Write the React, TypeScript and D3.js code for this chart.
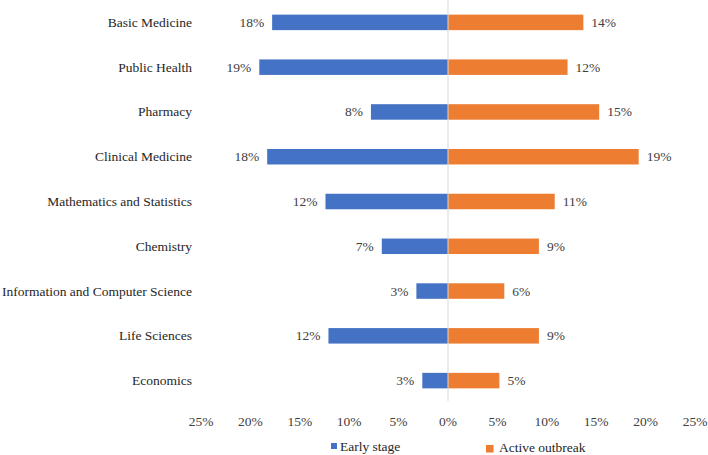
import React from "react";
import * as d3 from "d3";

const categories = [
  "Basic Medicine",
  "Public Health",
  "Pharmacy",
  "Clinical Medicine",
  "Mathematics and Statistics",
  "Chemistry",
  "Information and Computer Science",
  "Life Sciences",
  "Economics",
];
const earlyStage = [17.8, 19.1, 7.8, 18.3, 12.4, 6.7, 3.2, 12.1, 2.6];
const activeOutbreak = [13.7, 12.1, 15.3, 19.3, 10.8, 9.2, 5.7, 9.2, 5.2];
const earlyLabels = ["18%", "19%", "8%", "18%", "12%", "7%", "3%", "12%", "3%"];
const activeLabels = ["14%", "12%", "15%", "19%", "11%", "9%", "6%", "9%", "5%"];
const tickValues = [-25, -20, -15, -10, -5, 0, 5, 10, 15, 20, 25];
const seriesNames = ["Early stage", "Active outbreak"];

const W = 708;
const H = 455;
const BLUE = "#4472C4";
const ORANGE = "#ED7D31";
const FONT = "'Liberation Serif', 'DejaVu Serif Condensed', 'DejaVu Serif', serif";

export default function App() {
  const x = d3.scaleLinear().domain([-25, 25]).range([201, 695]);
  const y = d3
    .scaleBand<string>()
    .domain(categories)
    .range([0, 403])
    .paddingInner(0.654)
    .paddingOuter(0.327);
  const bw = y.bandwidth();
  const x0 = x(0);
  const ts = { fontFamily: FONT, fontSize: "13.5px" };

  return (
    <svg
      width={W}
      height={H}
      style={{ position: "absolute", left: 0, top: 0, background: "#fff", fontFamily: FONT }}
    >
      <rect x={0} y={0} width={W} height={H} fill="#fff" />
      {categories.map((c, i) => {
        const yy = y(c)!;
        const cy = yy + bw / 2;
        const xl = x(-earlyStage[i]);
        const xr = x(activeOutbreak[i]);
        return (
          <g key={c}>
            <text
              x={192}
              y={cy}
              textAnchor="end"
              dominantBaseline="central"
              style={ts}
              fill="#262626"
            >
              {c}
            </text>
            <rect x={xl} y={yy} width={x0 - xl} height={bw} fill={BLUE} />
            <rect x={x0} y={yy} width={xr - x0} height={bw} fill={ORANGE} />
            <text
              x={xl - 8}
              y={cy}
              textAnchor="end"
              dominantBaseline="central"
              style={ts}
              fill="#404040"
            >
              {earlyLabels[i]}
            </text>
            <text
              x={xr + 8}
              y={cy}
              textAnchor="start"
              dominantBaseline="central"
              style={ts}
              fill="#404040"
            >
              {activeLabels[i]}
            </text>
          </g>
        );
      })}
      <line x1={x0} x2={x0} y1={0} y2={401} stroke="#D9D9D9" strokeWidth={1} />
      {tickValues.map((t) => (
        <text
          key={t}
          x={x(t)}
          y={421}
          textAnchor="middle"
          dominantBaseline="central"
          style={ts}
          fill="#404040"
        >
          {Math.abs(t) + "%"}
        </text>
      ))}
      <g>
        <rect x={331} y={443} width={6} height={6} fill={BLUE} />
        <text x={340} y={450.5} style={ts} fill="#262626">
          {seriesNames[0]}
        </text>
        <rect x={486} y={445} width={7.5} height={7.5} fill={ORANGE} />
        <text x={499} y={452} style={ts} fill="#262626">
          {seriesNames[1]}
        </text>
      </g>
    </svg>
  );
}
